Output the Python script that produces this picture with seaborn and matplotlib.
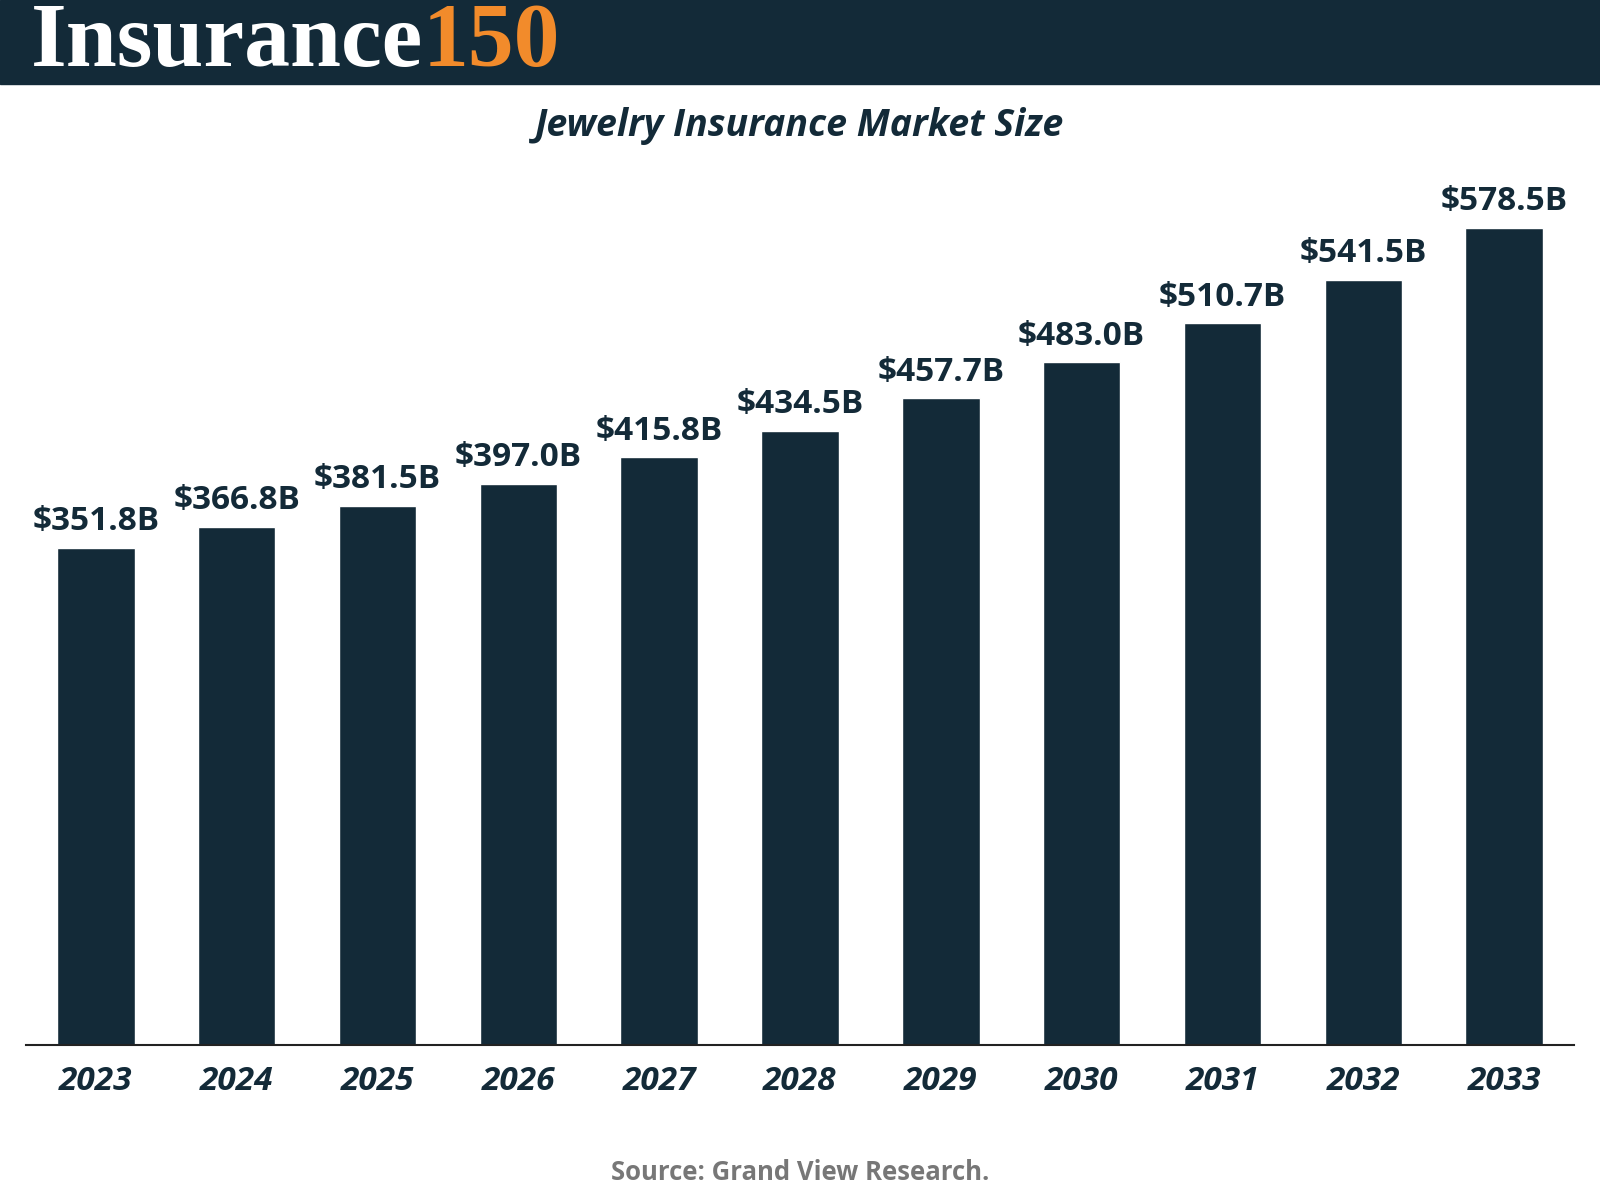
import seaborn as sns
import matplotlib.pyplot as plt
import pandas as pd
from matplotlib.patches import Rectangle

# данные с графика
years = ['2023', '2024', '2025', '2026', '2027', '2028',
         '2029', '2030', '2031', '2032', '2033']
market_size = [351.8, 366.8, 381.5, 397.0, 415.8, 434.5,
               457.7, 483.0, 510.7, 541.5, 578.5]

df = pd.DataFrame({'year': years, 'size': market_size})

dark = '#132a38'
orange = '#f28b2b'

sns.set_theme(style="white")
plt.rcParams['font.family'] = ['Open Sans', 'DejaVu Sans']

fig = plt.figure(figsize=(16, 12), dpi=100)
fig.patch.set_facecolor('white')

# шапка с логотипом
fig.patches.append(Rectangle((0, 1 - 82 / 1170), 1, 82 / 1170,
                             transform=fig.transFigure, color=dark, zorder=0))
logo = fig.text(30 / 1568, 1 - 43 / 1170, 'Insurance', color='white',
                fontsize=66, fontweight='bold', family='Liberation Serif',
                va='center', ha='left')
fig.canvas.draw()
bb = logo.get_window_extent()
fig.text(bb.x1 / fig.bbox.width, 1 - 43 / 1170, '150', color=orange,
         fontsize=66, fontweight='bold', family='Liberation Serif',
         va='center', ha='left')

fig.text(0.5, 1 - 123 / 1170, 'Jewelry Insurance Market Size', color=dark,
         fontsize=27, fontweight='bold', style='italic', ha='center', va='center')

# оси графика
ax = fig.add_axes([25 / 1568, 1 - 1019 / 1170, 1518 / 1568, 849 / 1170])
sns.barplot(x='year', y='size', data=df, color=dark, saturation=1,
            width=0.55, ax=ax)
ax.set_xlim(-0.5, 10.5)
ax.set_ylim(0, 849 / 1.378)

labels = [f'${v:.1f}B' for v in market_size]
ax.bar_label(ax.containers[0], labels=labels, padding=7, color=dark,
             fontsize=24, fontweight='bold')

for s in ['top', 'right', 'left']:
    ax.spines[s].set_visible(False)
ax.spines['bottom'].set_color('#222222')
ax.spines['bottom'].set_linewidth(1.5)
ax.set_yticks([])
ax.set_xlabel('')
ax.set_ylabel('')
ax.tick_params(axis='x', length=0, pad=14)
for t in ax.get_xticklabels():
    t.set_fontsize(24)
    t.set_fontweight('bold')
    t.set_fontstyle('italic')
    t.set_color(dark)

fig.text(0.5, 1 - 1143 / 1170, 'Source: Grand View Research.', color='#777777',
         fontsize=18.5, fontweight='bold', ha='center', va='center')

plt.savefig('out.png', dpi=100)
